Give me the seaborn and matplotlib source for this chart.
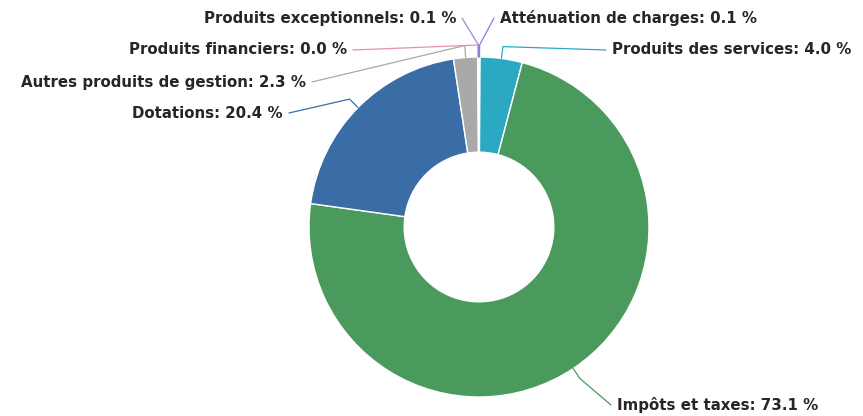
import numpy as np
import matplotlib
matplotlib.use("Agg")
import matplotlib.pyplot as plt
import seaborn as sns

# ---- data ----
categories = ["Atténuation de charges", "Produits des services", "Impôts et taxes",
              "Dotations", "Autres produits de gestion", "Produits financiers",
              "Produits exceptionnels"]
values = [0.1, 4.0, 73.1, 20.4, 2.3, 0.0, 0.1]
colors = ["#7b7bf0", "#2ba9c2", "#4a9a5e", "#3a6da6", "#a9a9a9", "#e58fb8", "#9a88e0"]

# label layout (pixel coords, y from top) and alignment
label_pos = [(500, 18, "left"), (612, 50, "left"), (617, 405, "left"),
             (283, 113, "right"), (306, 82, "right"), (347, 50, "right"),
             (456, 18, "right")]

sns.set_theme(style="white")
plt.rcParams['font.family'] = ['DejaVu Sans']

W, H = 863, 416
fig = plt.figure(figsize=(W / 100, H / 100), dpi=100)
ax = fig.add_axes([0, 0, 1, 1])

cx, cy, R = 479, H - 227, 170
wedges, _ = ax.pie(values, colors=colors, startangle=90, counterclock=False,
                   center=(cx, cy), radius=R, frame=True,
                   wedgeprops=dict(width=R * 0.56, edgecolor="white", linewidth=1))
ax.set_xlim(0, W)
ax.set_ylim(0, H)
ax.set_aspect("equal")
ax.axis("off")

total = sum(values)
cum = 0.0
for name, v, col, (tx, ty, ha) in zip(categories, values, colors, label_pos):
    mid = (cum + v / 2) / total * 2 * np.pi
    cum += v
    dx, dy = np.sin(mid), np.cos(mid)
    p0 = (cx + R * dx, cy + R * dy)
    p1 = (cx + (R + 12) * dx, cy + (R + 12) * dy)
    tyy = H - ty
    p2 = (tx - 6 if ha == "left" else tx + 6, tyy)
    ax.plot([p0[0], p1[0], p2[0]], [p0[1], p1[1], p2[1]], color=col, lw=0.9,
            solid_capstyle="round")
    ax.text(tx, tyy, f"{name}: {v:.1f} %", ha=ha, va="center", fontsize=10.8,
            fontweight="bold", color="#262626")

fig.savefig("out.png", dpi=100, facecolor="white")
